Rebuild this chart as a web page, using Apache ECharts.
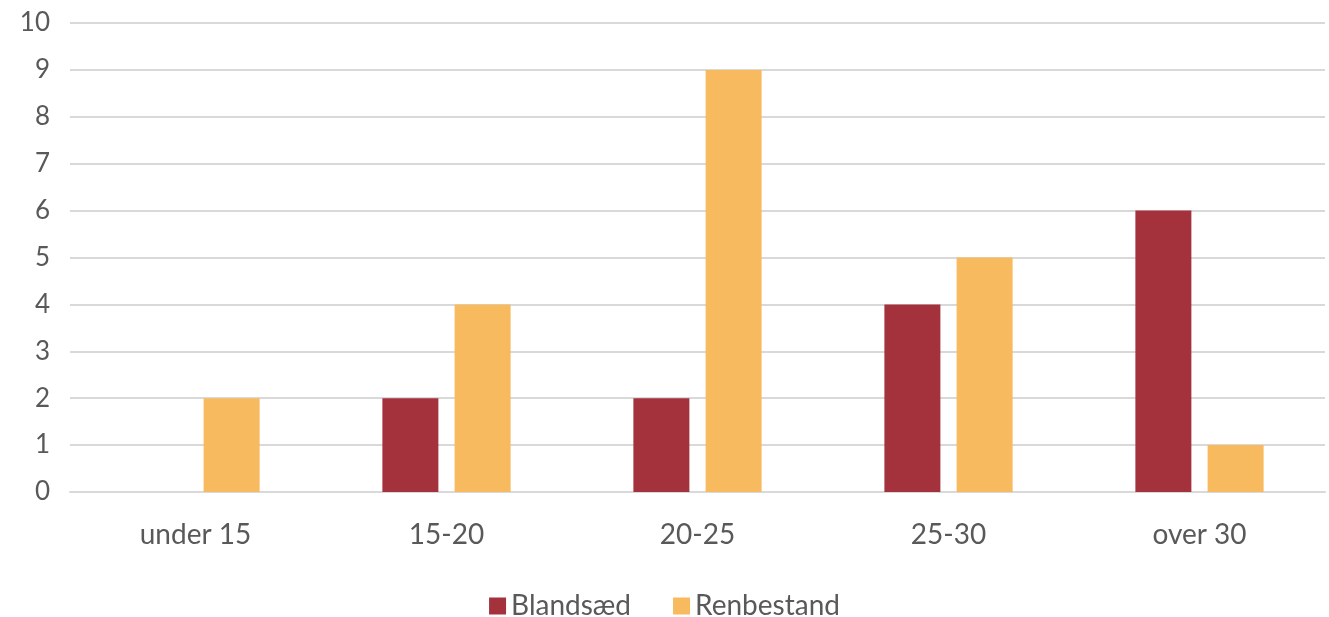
<!DOCTYPE html>
<html>
<head>
<meta charset="utf-8">
<script src="https://cdn.jsdelivr.net/npm/echarts@6/dist/echarts.min.js"></script>
<style>
  html, body { margin: 0; padding: 0; background: #fff; }
  #chart { width: 1329px; height: 617px; }
</style>
</head>
<body>
<div id="chart"></div>
<script>
const categories = ['under 15', '15-20', '20-25', '25-30', 'over 30'];
const blandsaed = [0, 2, 2, 4, 6];
const renbestand = [2, 4, 9, 5, 1];
const seriesNames = ['Blandsæd', 'Renbestand'];

const chart = echarts.init(document.getElementById('chart'));
const fontFamily = 'Lato, "Open Sans", sans-serif';

chart.setOption({
    animation: false,
    textStyle: { fontFamily: fontFamily },
    grid: { left: 70, right: 4, top: 23, bottom: 125 },
    legend: {
        data: seriesNames,
        top: 587,
        left: 'center',
        itemWidth: 17,
        itemHeight: 17,
        itemGap: 42,
        icon: 'rect',
        textStyle: { fontSize: 28, color: '#595959', fontFamily: fontFamily }
    },
    xAxis: {
        type: 'category',
        data: categories,
        axisLine: { lineStyle: { color: '#d9d9d9', width: 2 } },
        axisTick: { show: false },
        axisLabel: { fontSize: 28, color: '#595959', margin: 29 }
    },
    yAxis: {
        type: 'value',
        min: 0,
        max: 10,
        interval: 1,
        axisLine: { show: false },
        axisTick: { show: false },
        splitLine: { lineStyle: { color: '#d9d9d9', width: 2 } },
        axisLabel: { fontSize: 26, color: '#595959', margin: 20 }
    },
    series: [
        {
            name: seriesNames[0],
            type: 'bar',
            data: blandsaed,
            barWidth: 56,
            barGap: '29%',
            itemStyle: { color: '#a3323d' }
        },
        {
            name: seriesNames[1],
            type: 'bar',
            data: renbestand,
            barWidth: 56,
            itemStyle: { color: '#f7ba5e' }
        }
    ]
});
</script>
</body>
</html>
